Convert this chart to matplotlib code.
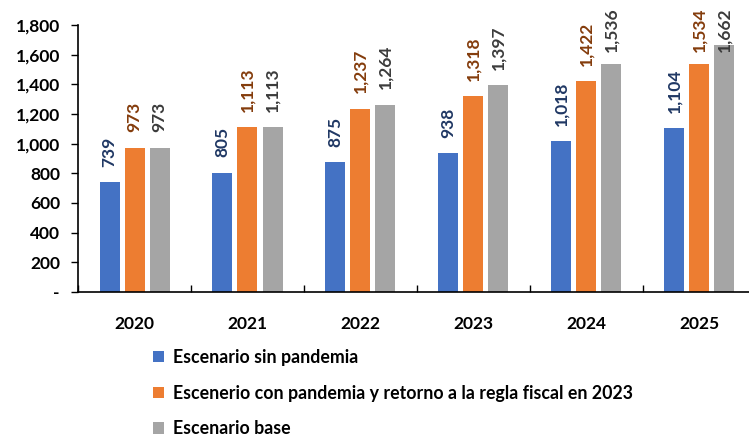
import matplotlib
matplotlib.use("Agg")
import matplotlib.pyplot as plt
import numpy as np
from matplotlib.ticker import FuncFormatter, FixedLocator
from matplotlib.patches import Patch

years = ["2020", "2021", "2022", "2023", "2024", "2025"]
sin_pandemia = [739, 805, 875, 938, 1018, 1104]
con_pandemia = [973, 1113, 1237, 1318, 1422, 1534]
base = [973, 1113, 1264, 1397, 1536, 1662]
series_names = ["Escenario sin pandemia",
                "Escenerio con pandemia y retorno a la regla fiscal en 2023",
                "Escenario base"]

bar_colors = ["#4472C4", "#ED7D31", "#A5A5A5"]
label_colors = ["#203864", "#843C0C", "#3B3B3B"]

plt.rcParams['font.family'] = ['Lato', 'DejaVu Sans']
plt.rcParams['font.weight'] = 'bold'

fig = plt.figure(figsize=(7.49, 4.37), dpi=100)
ax = fig.add_axes([78/749, 145/437, 678/749, 267/437])

x = np.arange(len(years))
width = 20/113
step = 25/113
labels = []
for i, (vals, c, lc) in enumerate(zip([sin_pandemia, con_pandemia, base], bar_colors, label_colors)):
    pos = x + (i - 1) * step
    bars = ax.bar(pos, vals, width, color=c, label=series_names[i], zorder=2)
    for b, v in zip(bars, vals):
        t = ax.annotate(f"{v:,}", (b.get_x() + b.get_width()/2, v), xytext=(0, 11),
                        textcoords="offset points", rotation=90, ha="center", va="bottom",
                        color=lc, fontsize=12.5, fontweight="bold", annotation_clip=False)
        labels.append(t)

ax.set_xlim(-0.5, len(years) - 0.5)
ax.set_ylim(0, 1800)
ax.set_yticks(np.arange(0, 1801, 200))
ax.yaxis.set_major_formatter(FuncFormatter(lambda v, p: "-" if v == 0 else f"{int(v):,}"))
ax.set_xticks(x)
ax.set_xticklabels(years)
ax.xaxis.set_minor_locator(FixedLocator(np.arange(-0.5, len(years), 1.0)))
ax.tick_params(axis='x', which='major', length=0, pad=17, labelsize=12.5)
ax.tick_params(axis='x', which='minor', length=5, direction='in', width=1)
ax.tick_params(axis='y', which='major', length=5, direction='out', width=1, labelsize=12.5, pad=8)
for lbl in ax.get_xticklabels() + ax.get_yticklabels():
    lbl.set_fontweight('bold')
ax.spines['top'].set_visible(False)
ax.spines['right'].set_visible(False)
ax.spines['left'].set_linewidth(1.2)
ax.spines['bottom'].set_linewidth(1.2)

handles = [Patch(facecolor=c, label=n) for c, n in zip(bar_colors, series_names)]
fig.legend(handles=handles, loc='upper left', bbox_to_anchor=(153/749, 1 - 349/437),
           frameon=False, handlelength=0.6, handleheight=0.6, handletextpad=0.5,
           labelspacing=1.05, prop={'weight': 'bold', 'size': 12.8}, borderaxespad=0, borderpad=0)

# keep value labels inside the figure (like the original spreadsheet chart)
fig.canvas.draw()
renderer = fig.canvas.get_renderer()
H = fig.bbox.height
for t in labels:
    bb = t.get_window_extent(renderer)
    top_px = H - bb.y1
    if top_px < 7:
        shift = 7 - top_px
        ox, oy = t.xyann
        t.xyann = (ox, oy - shift * 72 / fig.dpi)

fig.savefig("out.png", dpi=100)
